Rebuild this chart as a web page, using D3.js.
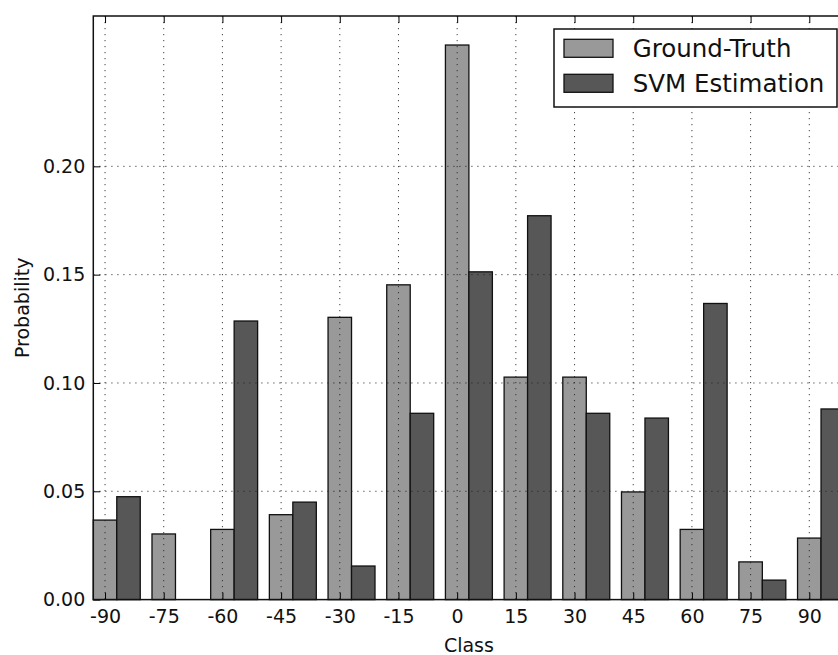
<!DOCTYPE html>
<html>
<head>
<meta charset="utf-8">
<script src="https://cdn.jsdelivr.net/npm/d3@7"></script>
<style>
  html, body { margin: 0; padding: 0; background: #fff; overflow: hidden; }
  svg { display: block; font-family: "DejaVu Sans", sans-serif; }
</style>
</head>
<body>
<svg id="chart" width="838" height="655"></svg>
<script>
// ---- data ----
const classes = [-90, -75, -60, -45, -30, -15, 0, 15, 30, 45, 60, 75, 90];
const groundTruth = [0.0367, 0.0303, 0.0324, 0.0392, 0.1303, 0.1453, 0.2560, 0.1027, 0.1027, 0.0497, 0.0324, 0.0174, 0.0284];
const svmEstimation = [0.0475, 0.0, 0.1286, 0.0450, 0.0155, 0.0860, 0.1513, 0.1772, 0.0860, 0.0838, 0.1367, 0.0090, 0.0880];
const seriesNames = ["Ground-Truth", "SVM Estimation"];
const yTicks = [0.00, 0.05, 0.10, 0.15, 0.20];

(function () {
// ---- layout ----
const pLeft = 93.3, pTop = 16, pBottom = 599.6, pRight = 844.5;
const barW = 6; // data units (0.4 * 15)
const colors = ["#999999", "#575757"];
const fs = 19;

const svg = d3.select("#chart");
const x = d3.scaleLinear().domain([-93, 99]).range([pLeft, pRight]);
const y = d3.scaleLinear().domain([0, 0.2694]).range([pBottom, pTop]);

// bars
const g = svg.append("g");
g.selectAll("rect.gt").data(classes).enter().append("rect")
  .attr("class", "gt")
  .attr("x", (d) => x(d - barW / 2))
  .attr("width", (d) => x(d + barW / 2) - x(d - barW / 2))
  .attr("y", (d, i) => y(groundTruth[i]))
  .attr("height", (d, i) => y(0) - y(groundTruth[i]))
  .attr("fill", colors[0]).attr("stroke", "#111").attr("stroke-width", 1.3);
g.selectAll("rect.svm").data(classes).enter().append("rect")
  .attr("class", "svm")
  .attr("x", (d) => x(d + barW / 2))
  .attr("width", (d) => x(d + 1.5 * barW) - x(d + barW / 2))
  .attr("y", (d, i) => y(svmEstimation[i]))
  .attr("height", (d, i) => y(0) - y(svmEstimation[i]))
  .attr("fill", colors[1]).attr("stroke", "#111").attr("stroke-width", 1.3)
  .attr("display", (d, i) => svmEstimation[i] > 0 ? null : "none");

// grid (on top of bars)
const grid = svg.append("g").attr("stroke", "#222").attr("stroke-width", 1)
  .attr("stroke-dasharray", "1.2,4.8").attr("fill", "none").attr("opacity", 0.85);
classes.forEach((c) => {
  grid.append("line").attr("x1", x(c)).attr("x2", x(c)).attr("y1", pTop).attr("y2", pBottom);
});
yTicks.slice(1).forEach((t) => {
  grid.append("line").attr("x1", pLeft).attr("x2", pRight).attr("y1", y(t)).attr("y2", y(t));
});

// axes with inward ticks
const tickLen = 7;
const xAxisB = d3.axisBottom(x).tickValues(classes).tickSizeInner(-tickLen).tickSizeOuter(0)
  .tickPadding(10).tickFormat((d) => String(d));
const gxB = svg.append("g").attr("transform", `translate(0,${pBottom})`).call(xAxisB);
gxB.select(".domain").remove();
gxB.selectAll("line").attr("stroke", "#000").attr("stroke-width", 1);
gxB.selectAll("text").attr("font-size", fs).attr("fill", "#111")
  .attr("font-family", "DejaVu Sans").attr("dy", "0.71em");

const xAxisT = d3.axisTop(x).tickValues(classes).tickSizeInner(-tickLen).tickSizeOuter(0).tickFormat("");
const gxT = svg.append("g").attr("transform", `translate(0,${pTop})`).call(xAxisT);
gxT.select(".domain").remove();
gxT.selectAll("line").attr("stroke", "#000").attr("stroke-width", 1);

const yAxis = d3.axisLeft(y).tickValues(yTicks).tickSizeInner(-tickLen).tickSizeOuter(0)
  .tickPadding(8).tickFormat(d3.format(".2f"));
const gy = svg.append("g").attr("transform", `translate(${pLeft},0)`).call(yAxis);
gy.select(".domain").remove();
gy.selectAll("line").attr("stroke", "#000").attr("stroke-width", 1);
gy.selectAll("text").attr("font-size", fs).attr("fill", "#111")
  .attr("font-family", "DejaVu Sans");

// spines
svg.append("rect").attr("x", pLeft).attr("y", pTop)
  .attr("width", pRight - pLeft).attr("height", pBottom - pTop)
  .attr("fill", "none").attr("stroke", "#111").attr("stroke-width", 1.5);

// axis labels
svg.append("text").attr("x", (pLeft + pRight) / 2).attr("y", 652)
  .attr("text-anchor", "middle").attr("font-size", fs).attr("fill", "#111").text("Class");
svg.append("text").attr("transform", `translate(29,${(pTop + pBottom) / 2}) rotate(-90)`)
  .attr("text-anchor", "middle").attr("font-size", fs).attr("fill", "#111").text("Probability");

// legend
const lg = svg.append("g");
lg.append("rect").attr("x", 554).attr("y", 29).attr("width", 283).attr("height", 78)
  .attr("fill", "#fff").attr("stroke", "#111").attr("stroke-width", 1.5);
seriesNames.forEach((name, i) => {
  const cy = 48.3 + i * 35;
  lg.append("rect").attr("x", 564).attr("y", cy - 9).attr("width", 49).attr("height", 18)
    .attr("fill", colors[i]).attr("stroke", "#111").attr("stroke-width", 1.3);
  lg.append("text").attr("x", 632.7).attr("y", cy).attr("dy", "0.36em")
    .attr("font-size", 24.5).attr("fill", "#111").text(name);
});
})();
</script>
</body>
</html>
